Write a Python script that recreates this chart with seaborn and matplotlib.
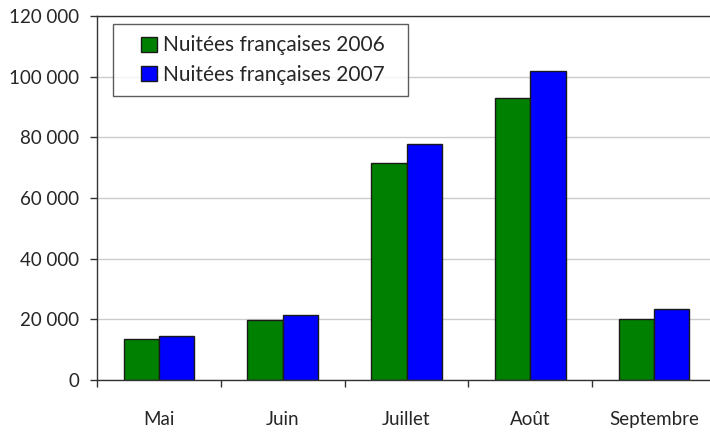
import pandas as pd
import numpy as np
import matplotlib
matplotlib.use("Agg")
import matplotlib.pyplot as plt
import seaborn as sns
from matplotlib.ticker import FuncFormatter
from matplotlib.patches import Rectangle, Patch
from matplotlib.legend_handler import HandlerPatch

mois = ["Mai", "Juin", "Juillet", "Août", "Septembre"]
nuitees_2006 = [13400, 19700, 71500, 93000, 20100]
nuitees_2007 = [14600, 21300, 77800, 101800, 23500]
series = ["Nuitées françaises 2006", "Nuitées françaises 2007"]

df = pd.DataFrame({
    "mois": mois * 2,
    "valeur": nuitees_2006 + nuitees_2007,
    "serie": [series[0]] * len(mois) + [series[1]] * len(mois),
})

sns.set_style("white")
plt.rcParams["font.family"] = ["Lato", "DejaVu Sans"]

fig = plt.figure(figsize=(7.1, 4.34), dpi=100)
ax = fig.add_axes([97 / 710, 1 - 380 / 434, 619 / 710, 364 / 434])

sns.barplot(data=df, x="mois", y="valeur", hue="serie",
            palette=["#008000", "#0000ff"], width=0.57,
            edgecolor="#1a1a1a", linewidth=1, saturation=1, ax=ax)

ax.set_ylim(0, 120000)
ax.set_yticks(np.arange(0, 120001, 20000))
ax.yaxis.set_major_formatter(FuncFormatter(lambda v, p: f"{int(v):,}".replace(",", " ")))
ax.yaxis.grid(True, color="#cccccc", linewidth=1)
ax.set_axisbelow(True)
ax.set_xlim(-0.5, len(mois) - 0.5)

ax.set_xticks(np.arange(-0.5, len(mois), 1.0), minor=True)
ax.tick_params(axis="x", which="major", length=0, pad=22, labelsize=13.5)
ax.tick_params(axis="x", which="minor", length=5, width=1, direction="out", color="#333333", bottom=True)
ax.tick_params(axis="y", length=5, width=1, direction="out", color="#333333", left=True, labelsize=13.5, pad=8)

ax.set_xlabel("")
ax.set_ylabel("")
for s in ["left", "bottom", "top"]:
    ax.spines[s].set_color("#333333")
    ax.spines[s].set_linewidth(1)
ax.spines["right"].set_visible(False)


# square marker pushed to the right end of the handle slot
def square(legend, orig_handle, xdescent, ydescent, width, height, fontsize):
    return Rectangle((-xdescent + width - height, -ydescent), height, height)


# legend box spans x 113..408 px, top at y 24 px
x0 = (113 - 97) / 619
w = (408 - 113) / 619
handles, labels = ax.get_legend_handles_labels()
leg = ax.legend(handles, labels, loc="upper left", bbox_to_anchor=(x0, 0.5, w, 0.478), mode="expand",
                borderaxespad=0, fontsize=15,
                frameon=True, fancybox=False, shadow=False, handlelength=1.55,
                handleheight=0.75, handletextpad=0.3, borderpad=0.55, labelspacing=0.45,
                handler_map={Rectangle: HandlerPatch(patch_func=square),
                             Patch: HandlerPatch(patch_func=square)})
leg.get_frame().set_edgecolor("#333333")
leg.get_frame().set_linewidth(1)
for h in leg.legend_handles:
    h.set_edgecolor("#1a1a1a")

fig.savefig("out.png", dpi=100)
